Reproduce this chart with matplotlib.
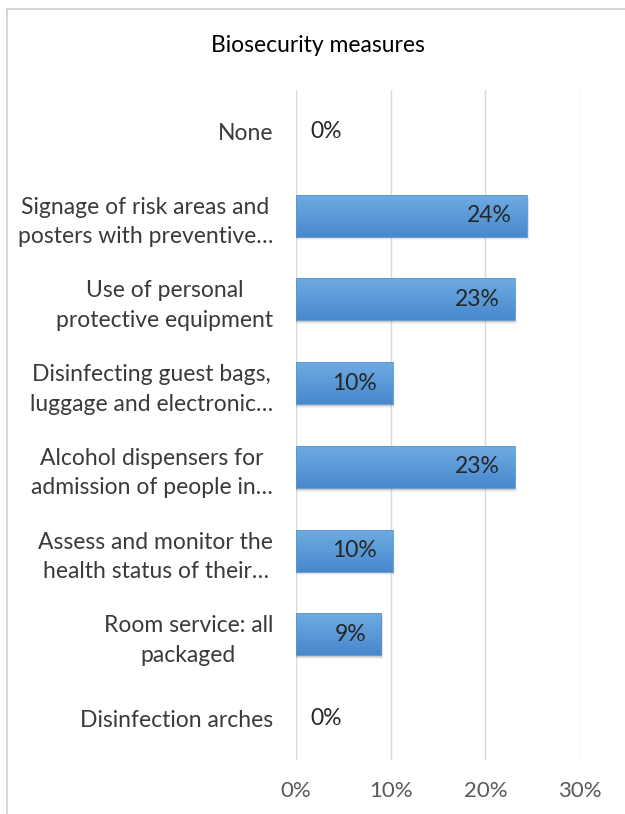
import numpy as np
import matplotlib
matplotlib.use("Agg")
import matplotlib.pyplot as plt
from matplotlib.patches import Rectangle
from matplotlib.lines import Line2D
from matplotlib.colors import LinearSegmentedColormap
from matplotlib.ticker import FuncFormatter

categories = [
    "None",
    "Signage of risk areas and\nposters with preventive\u2026",
    "Use of personal\nprotective equipment",
    "Disinfecting guest bags,\nluggage and electronic\u2026",
    "Alcohol dispensers for\nadmission of people in\u2026",
    "Assess and monitor the\nhealth status of their\u2026",
    "Room service: all\npackaged",
    "Disinfection arches",
]
values = [0.0, 0.244, 0.231, 0.102, 0.231, 0.102, 0.090, 0.0]
x_ticks = [0.0, 0.1, 0.2, 0.3]
title = "Biosecurity measures"

plt.rcParams["font.family"] = ["Lato", "DejaVu Sans"]

W, H = 625, 814
fig = plt.figure(figsize=(W / 100, H / 100), dpi=100)
fig.patch.set_facecolor("white")

# chart frame edges (top and left)
fig.add_artist(Line2D([6.5 / W, 1], [1 - 9 / H, 1 - 9 / H], transform=fig.transFigure,
                      color="#d0d0d0", linewidth=1.2))
fig.add_artist(Line2D([6.5 / W, 6.5 / W], [0, 1 - 9 / H], transform=fig.transFigure,
                      color="#d0d0d0", linewidth=1.2))

left, right, top, bottom = 296, 580, 90, 760
ax = fig.add_axes([left / W, 1 - bottom / H, (right - left) / W, (bottom - top) / H])
n = len(categories)

for s in ax.spines.values():
    s.set_visible(False)
ax.set_xticks(x_ticks)
ax.xaxis.set_major_formatter(FuncFormatter(lambda v, p: f"{v * 100:.0f}%"))
ax.grid(axis="x", color="#d9d9d9", linewidth=1.0)
ax.set_axisbelow(True)
ax.tick_params(axis="x", length=0, pad=15, labelsize=16, labelcolor="#595959")
ax.tick_params(axis="y", length=0, pad=16.5, labelsize=16.5, labelcolor="#3a3a3a")
ax.set_yticks(range(n))
ax.set_yticklabels(categories, multialignment="center", linespacing=1.5)

cmap = LinearSegmentedColormap.from_list("barfill", ["#70abe1", "#5a9ad8", "#4888cd"])
grad = np.linspace(0, 1, 64).reshape(-1, 1)
bh = 0.5
for i, v in enumerate(values):
    y0 = i - bh / 2
    if v > 0:
        # soft drop shadow beneath each bar
        for k, a in enumerate([0.10, 0.07, 0.04]):
            d = 0.012 * (k + 1)
            ax.add_patch(Rectangle((0, y0 + d + 0.01), v + 0.0008 * (k + 1), bh,
                                   facecolor="black", alpha=a, edgecolor="none", zorder=2))
        ax.add_patch(Rectangle((0, y0), v, bh, facecolor="none", edgecolor="#5a95d0",
                               linewidth=0.6, zorder=4))
        im = ax.imshow(grad, cmap=cmap, aspect="auto", extent=(0, v, y0 + bh, y0),
                       zorder=3, interpolation="bicubic")
        im.set_clip_path(Rectangle((0, y0), v, bh, transform=ax.transData))
        ax.annotate(f"{v * 100:.0f}%", (v, i), xytext=(-11, 0), textcoords="offset points",
                    ha="right", va="center", fontsize=16.5, color="#262626", zorder=5)
    else:
        ax.annotate(f"{v * 100:.0f}%", (v, i), xytext=(10, 0), textcoords="offset points",
                    ha="left", va="center", fontsize=16.5, color="#262626", zorder=5)

ax.set_xlim(0, 0.3)
ax.set_ylim(n - 0.5, -0.5)

fig.text(318 / W, 1 - 46 / H, title, ha="center", va="center", fontsize=16.5, color="#000000")

fig.savefig("out.png", dpi=100, facecolor="white")
